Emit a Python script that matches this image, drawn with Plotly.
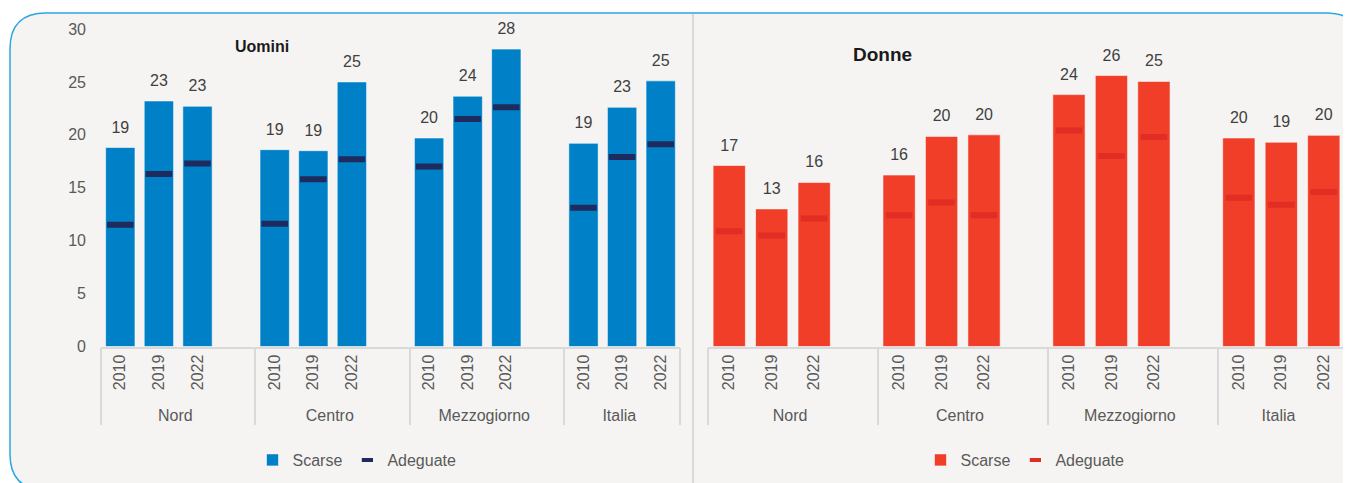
import plotly.graph_objects as go

# ---------------- data ----------------
regions = ["Nord", "Centro", "Mezzogiorno", "Italia"]
years = ["2010", "2019", "2022"]

men_scarse = [18.8, 23.2, 22.7, 18.6, 18.5, 25.0, 19.7, 23.65, 28.1, 19.2, 22.6, 25.1]
men_adeguate = [11.5, 16.3, 17.3, 11.6, 15.8, 17.7, 17.0, 21.5, 22.6, 13.1, 17.9, 19.1]
women_scarse = [17.1, 13.0, 15.5, 16.2, 19.85, 20.0, 23.8, 25.6, 25.05, 19.7, 19.3, 19.95]
women_adeguate = [10.9, 10.5, 12.1, 12.4, 13.6, 12.4, 20.4, 18.0, 19.8, 14.05, 13.4, 14.6]

y_ticks = [0, 5, 10, 15, 20, 25, 30]

# ---------------- styling ----------------
W, H = 1351, 483
OFF = 8  # page body margin
FONT = "Liberation Sans, Arial, sans-serif"
BLUE = "#0080c6"
NAVY = "#1f2a5e"
RED = "#f03e28"
DRED = "#e22d25"
GRID = "#d9d9d9"
TICK_C = "#595959"
LABEL_C = "#404040"
BG = "#f5f4f2"


def px_x(v):
    return (v - OFF) / W


def px_y(v):
    return 1 - (v - OFF) / H


def build_axis(values):
    """Return multicategory x arrays (with a blank spacer after each group except the last)
    and the matching y values (None on spacers)."""
    lvl0, lvl1, ys = [], [], []
    k = 0
    for gi, r in enumerate(regions):
        for yr in years:
            lvl0.append(r)
            lvl1.append(yr)
            ys.append(values[k])
            k += 1
        if gi < len(regions) - 1:
            lvl0.append(r)
            lvl1.append(" " * (gi + 1))
            ys.append(None)
    return [lvl0, lvl1], ys


def fmt(v):
    return "" if v is None else str(int(v + 0.5))


fig = go.Figure()

panels = [
    (men_scarse, men_adeguate, BLUE, NAVY, "x", "y", "legend"),
    (women_scarse, women_adeguate, RED, DRED, "x2", "y2", "legend2"),
]

n_slots = 0
for scarse, adeg, c_bar, c_adeg, xa, ya, lg in panels:
    xs, ys = build_axis(scarse)
    _, ya_vals = build_axis(adeg)
    n_slots = len(ys)
    fig.add_trace(go.Bar(
        x=xs, y=ys, name="Scarse", marker=dict(color=c_bar, line=dict(color="rgba(255,255,255,0.55)", width=1)),
        xaxis=xa, yaxis=ya, legend=lg, hoverinfo="y",
    ))
    fig.add_trace(go.Scatter(
        x=xs, y=ya_vals, mode="markers", name="Adeguate", showlegend=False,
        marker=dict(symbol="line-ew", size=19, color=c_adeg, line=dict(color=c_adeg, width=6)),
        xaxis=xa, yaxis=ya, legend=lg, hoverinfo="y",
    ))
    # legend-only entry with a small dash like the reference
    fig.add_trace(go.Scatter(
        x=[None], y=[None], mode="markers", name="Adeguate",
        marker=dict(symbol="line-ew", size=8, color=c_adeg, line=dict(color=c_adeg, width=4)),
        xaxis=xa, yaxis=ya, legend=lg,
    ))
    # value labels above the bars
    fig.add_trace(go.Scatter(
        x=xs, y=ys, mode="markers+text", text=[fmt(v) for v in ys], textposition="top center",
        textfont=dict(family=FONT, size=16, color=LABEL_C), cliponaxis=False,
        marker=dict(size=16, color="rgba(0,0,0,0)"), showlegend=False, hoverinfo="skip",
        xaxis=xa, yaxis=ya,
    ))

y_dom = [px_y(346.5), px_y(29)]

xaxis_common = dict(
    type="multicategory", range=[-0.5, n_slots - 0.5], autorange=False,
    showline=True, linecolor=GRID, linewidth=1.5,
    showgrid=False, zeroline=False, tickangle=-90, automargin=False,
    showdividers=True, dividercolor=GRID, dividerwidth=1.5,
    tickfont=dict(family=FONT, size=16, color=TICK_C), fixedrange=True,
)

legend_common = dict(
    orientation="h", xanchor="center", yanchor="middle", bgcolor="rgba(0,0,0,0)",
    font=dict(family=FONT, size=16, color=TICK_C), traceorder="normal", itemwidth=30,
)

fig.update_layout(
    width=W, height=H,
    margin=dict(l=0, r=0, t=0, b=0, autoexpand=False),
    paper_bgcolor="white", plot_bgcolor="rgba(0,0,0,0)",
    bargap=0.24,
    font=dict(family=FONT, size=16, color=TICK_C),
    xaxis=dict(domain=[px_x(101), px_x(680)], anchor="y", **xaxis_common),
    yaxis=dict(domain=y_dom, range=[0, 30], tickvals=y_ticks, showgrid=False, zeroline=False,
               showline=False, ticklabelstandoff=14, automargin=False,
               tickfont=dict(family=FONT, size=16, color=TICK_C), fixedrange=True),
    xaxis2=dict(domain=[px_x(708), px_x(1345)], anchor="y2", **xaxis_common),
    yaxis2=dict(domain=y_dom, range=[0, 30], visible=False, automargin=False, fixedrange=True),
    legend=dict(x=px_x(357), y=px_y(460), **legend_common),
    legend2=dict(x=px_x(1025), y=px_y(460), **legend_common),
)

# rounded background card
x0, y0, x1, y1, r = 10, 13, 1362, 490, 36
pts = lambda x, y: f"{px_x(x):.5f},{px_y(y):.5f}"
path = (
    f"M {pts(x0 + r, y0)} L {pts(x1 - r, y0)} Q {pts(x1, y0)} {pts(x1, y0 + r)} "
    f"L {pts(x1, y1 - r)} Q {pts(x1, y1)} {pts(x1 - r, y1)} "
    f"L {pts(x0 + r, y1)} Q {pts(x0, y1)} {pts(x0, y1 - r)} "
    f"L {pts(x0, y0 + r)} Q {pts(x0, y0)} {pts(x0 + r, y0)} Z"
)
fig.add_shape(type="path", path=path, xref="paper", yref="paper",
              fillcolor=BG, line=dict(color="#2aa8e0", width=1.5), layer="below")
fig.add_shape(type="line", xref="paper", yref="paper", x0=px_x(693), x1=px_x(693),
              y0=px_y(14), y1=0, line=dict(color=GRID, width=2), layer="below")

fig.add_annotation(text="<b>Uomini</b>", x=px_x(262), y=px_y(46), xref="paper", yref="paper",
                   xanchor="center", yanchor="middle",
                   showarrow=False, font=dict(family=FONT, size=16, color="#1a1a1a"))
fig.add_annotation(text="<b>Donne</b>", x=px_x(882), y=px_y(54), xref="paper", yref="paper",
                   xanchor="center", yanchor="middle",
                   showarrow=False, font=dict(family=FONT, size=19, color="#1a1a1a"))

fig.write_html("out.html")
